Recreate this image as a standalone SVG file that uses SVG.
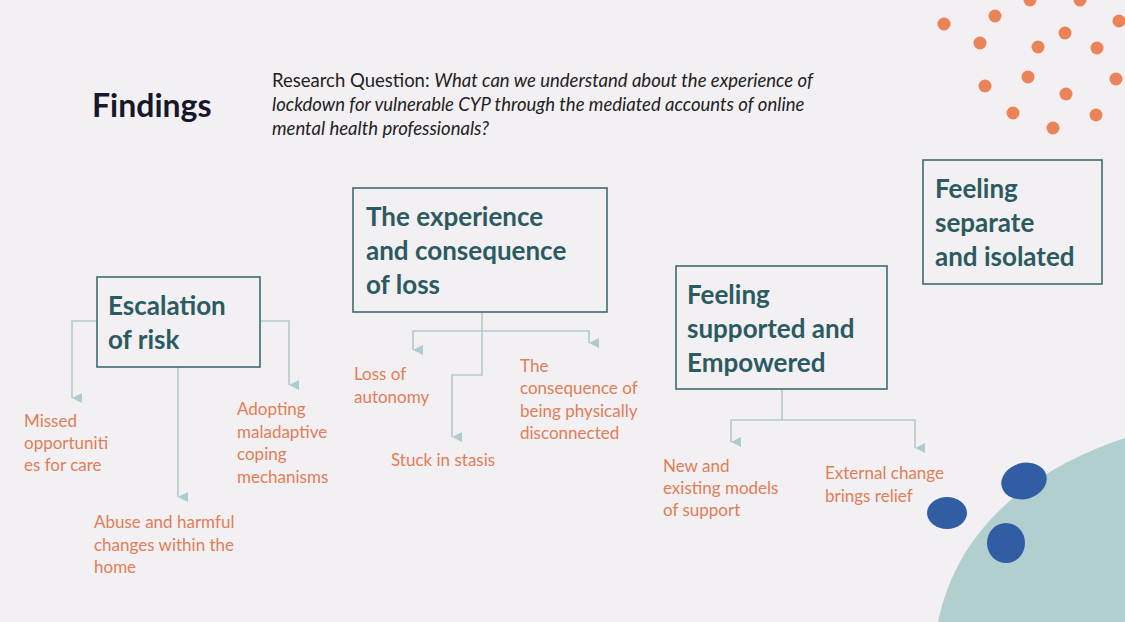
<svg xmlns="http://www.w3.org/2000/svg" width="1125" height="622" viewBox="0 0 1125 622">
<style>
.h{font-family:Lato,"Open Sans",sans-serif;font-weight:bold;font-size:26px;fill:#2b5b60}
.box{fill:none;stroke:#3f6c72;stroke-width:1.6}
.l{font-family:Lato,"Open Sans",sans-serif;font-size:17px;fill:#e27d56}
.c{fill:none;stroke:#aecbcd;stroke-width:1.6}
.d{fill:#ec8358}
</style>
<defs><marker id="a" viewBox="0 0 10 10" refX="5" refY="10" markerWidth="10" markerHeight="10" markerUnits="userSpaceOnUse" orient="auto-start-reverse"><path d="M0,0 L10,0 L5,10 Z" fill="#aecbcd" transform="rotate(0)"/></marker></defs>
<rect width="1125" height="622" fill="#f2f0f2"/>
<path d="M938,622 C958,525 1035,468 1125,438 L1125,622 Z" fill="#b1cfcf"/>
<ellipse cx="1024" cy="481" rx="23" ry="18" fill="#315da3" transform="rotate(-15 1024 481)"/>
<ellipse cx="947" cy="513" rx="20" ry="16" fill="#315da3"/>
<ellipse cx="1006" cy="543" rx="19" ry="20" fill="#315da3"/>
<g>
<circle class="d" cx="1030" cy="0" r="6.5"/><circle class="d" cx="1080" cy="0" r="6.5"/><circle class="d" cx="995" cy="16" r="6.5"/><circle class="d" cx="944" cy="24" r="6.5"/><circle class="d" cx="1119" cy="21" r="6.5"/><circle class="d" cx="980" cy="43" r="6.5"/><circle class="d" cx="1038" cy="47" r="6.5"/><circle class="d" cx="1065" cy="33" r="6.5"/><circle class="d" cx="1097" cy="48" r="6.5"/><circle class="d" cx="1028" cy="77" r="6.5"/><circle class="d" cx="985" cy="86" r="6.5"/><circle class="d" cx="1116" cy="79" r="6.5"/><circle class="d" cx="1066" cy="94" r="6.5"/><circle class="d" cx="1013" cy="113" r="6.5"/><circle class="d" cx="1096" cy="115" r="6.5"/><circle class="d" cx="1053" cy="128" r="6.5"/>
</g>
<text x="92" y="117" font-family="Lato,'Open Sans',sans-serif" font-weight="bold" font-size="32" fill="#16172b">Findings</text>
<g font-family="Lato,'Open Sans',sans-serif" font-size="18.5" fill="#222">
<text x="272" y="87">Research Question: <tspan font-style="italic">What can we understand about the experience of</tspan></text>
<text x="272" y="111" font-style="italic">lockdown for vulnerable CYP through the mediated accounts of online</text>
<text x="272" y="135" font-style="italic">mental health professionals?</text>
</g>
<g id="connectors">
<path class="c" d="M97,321 H72 V398" marker-end="url(#a)"/>
<path class="c" d="M260,321 H289 V385" marker-end="url(#a)"/>
<path class="c" d="M178,367 V497" marker-end="url(#a)"/>
<path class="c" d="M482,312 V331"/>
<path class="c" d="M482,331 H413 V350" marker-end="url(#a)"/>
<path class="c" d="M482,331 H589 V343" marker-end="url(#a)"/>
<path class="c" d="M482,331 V375 H452 V437" marker-end="url(#a)"/>
<path class="c" d="M782,389 V420"/>
<path class="c" d="M782,420 H731 V442" marker-end="url(#a)"/>
<path class="c" d="M782,420 H915 V448" marker-end="url(#a)"/>
</g>
<g id="escalation"><rect class="box" x="97" y="277" width="163" height="90"/><text class="h" x="108" y="315">Escalation</text><text class="h" x="108" y="349">of risk</text></g>
<g id="loss"><rect class="box" x="353" y="188" width="254" height="124"/><text class="h" x="366" y="226">The experience</text><text class="h" x="366" y="260">and consequence</text><text class="h" x="366" y="294">of loss</text></g>
<g id="supported"><rect class="box" x="676" y="266" width="211" height="123"/><text class="h" x="687" y="304">Feeling</text><text class="h" x="687" y="338">supported and</text><text class="h" x="687" y="372">Empowered</text></g>
<g id="separate"><rect class="box" x="923" y="160" width="179" height="124"/><text class="h" x="935" y="198">Feeling</text><text class="h" x="935" y="232">separate</text><text class="h" x="935" y="266">and isolated</text></g>
<g id="labels">
<text class="l" x="24" y="427">Missed</text><text class="l" x="24" y="449">opportuniti</text><text class="l" x="24" y="471">es for care</text>
<text class="l" x="94" y="528">Abuse and harmful</text><text class="l" x="94" y="551">changes within the</text><text class="l" x="94" y="573">home</text>
<text class="l" x="237" y="415">Adopting</text><text class="l" x="237" y="438">maladaptive</text><text class="l" x="237" y="460">coping</text><text class="l" x="237" y="483">mechanisms</text>
<text class="l" x="354" y="380">Loss of</text><text class="l" x="354" y="403">autonomy</text>
<text class="l" x="391" y="466">Stuck in stasis</text>
<text class="l" x="520" y="372">The</text><text class="l" x="520" y="394">consequence of</text><text class="l" x="520" y="417">being physically</text><text class="l" x="520" y="439">disconnected</text>
<text class="l" x="663" y="472">New and</text><text class="l" x="663" y="494">existing models</text><text class="l" x="663" y="516">of support</text>
<text class="l" x="825" y="479">External change</text><text class="l" x="825" y="502">brings relief</text>
</g>
</svg>
